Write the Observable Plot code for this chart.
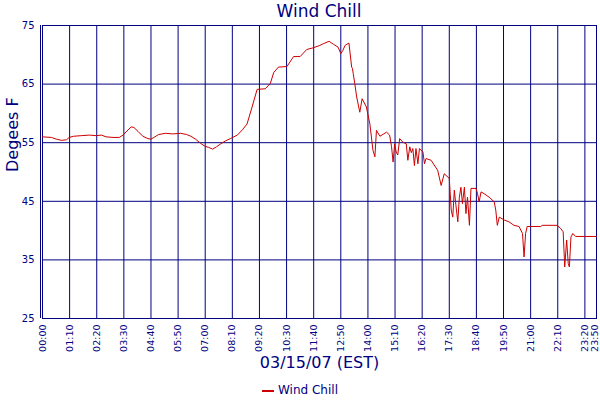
<!DOCTYPE html>
<html><head><meta charset="utf-8">
<script src="https://cdn.jsdelivr.net/npm/d3@7"></script>
<script src="https://cdn.jsdelivr.net/npm/@observablehq/plot@0.6"></script>
<style>
body{margin:0;background:#fff;font-family:"DejaVu Sans",sans-serif;color:#000080;width:600px;height:400px;position:relative;overflow:hidden}
#title{position:absolute;top:0;left:0;width:638px;text-align:center;font-size:17px;height:22px;line-height:22px}
#chart{position:absolute;top:20px;left:0}
#legend{position:absolute;top:381px;left:0;width:600px;text-align:center;font-size:12px;line-height:18px}
#legend .sw{display:inline-block;width:12px;height:2px;background:#cc0000;vertical-align:middle;margin-right:4px}
</style></head>
<body>
<div id="title">Wind Chill</div>
<div id="chart"></div>
<div id="legend"><span class="sw"></span>Wind Chill</div>
<script>
// minutes since 00:00 on 03/15/07
const minutes = [0,23,36,49,62,69,80,100,121,139,152,164,182,198,208,218,229,236,247,259,272,280,290,300,318,336,357,372,383,395,408,419,429,439,449,460,472,485,503,516,528,541,554,575,588,597,609,631,648,665,682,699,716,725,740,751,763,770,775,781,791,798,800,802,806,811,819,825,836,845,853,858,862,871,888,896,901,905,909,913,917,922,930,939,943,948,952,956,960,964,969,973,982,986,990,1003,1020,1029,1037,1050,1055,1059,1063,1067,1072,1076,1080,1084,1089,1093,1097,1102,1106,1119,1123,1127,1132,1140,1153,1166,1170,1174,1179,1192,1204,1217,1230,1239,1243,1247,1251,1286,1290,1328,1337,1344,1348,1353,1357,1360,1364,1369,1376,1430];
const windChill = [56.0,55.9,55.6,55.4,55.5,55.9,56.1,56.2,56.3,56.2,56.3,56.0,55.9,55.9,56.3,57.0,57.7,57.6,56.9,56.1,55.7,55.6,56.0,56.4,56.6,56.5,56.6,56.4,56.1,55.6,54.9,54.4,54.2,53.9,54.3,54.8,55.3,55.7,56.3,57.2,58.2,61.1,64.1,64.2,65.1,67.0,67.9,68.0,69.7,69.7,70.9,71.2,71.6,71.9,72.3,71.8,71.3,70.2,70.7,71.6,72.0,67.9,67.7,66.8,65.1,62.8,60.2,62.5,61.1,58.2,53.7,52.6,57.1,56.1,56.8,56.3,54.3,51.7,54.8,53.4,52.9,55.7,55.1,54.8,52.0,54.3,53.3,54.0,51.1,54.0,51.4,54.0,53.4,51.4,52.3,52.0,50.3,47.7,49.7,48.9,43.5,42.3,46.9,44.4,41.5,45.7,47.4,44.6,47.4,42.9,45.7,40.9,47.2,47.2,46.3,44.9,46.6,46.3,45.7,44.9,43.5,40.9,42.3,41.8,41.5,40.9,40.7,39.5,35.5,39.5,40.7,40.7,40.9,40.9,40.4,39.8,33.8,38.4,34.4,33.8,38.9,39.5,39.0,39.0];
const xTicks = [0,70,140,210,280,350,420,490,560,630,700,770,840,910,980,1050,1120,1190,1260,1330,1400,1430];
const yTicks = [25,35,45,55,65,75];
const xLabel = "03/15/07 (EST)";
const yLabel = "Degees F";

const data = minutes.map((m, i) => ({m, v: windChill[i]}));
const fmt = m => String(Math.floor(m / 60)).padStart(2, "0") + ":" + String(m % 60).padStart(2, "0");
const navy = "#000080";
const lastTick = xTicks[xTicks.length - 1];

const chart = Plot.plot({
  width: 600, height: 360,
  marginTop: 5, marginBottom: 62, marginLeft: 42, marginRight: 4,
  style: {fontFamily: "DejaVu Sans", color: navy, fontSize: "10px", background: "white"},
  x: {domain: [0, 1430]},
  y: {domain: [25, 75]},
  marks: [
    Plot.ruleX(xTicks, {stroke: navy, strokeOpacity: 1}),
    Plot.ruleY(yTicks, {stroke: navy, strokeOpacity: 1}),
    Plot.frame({stroke: navy}),
    Plot.ruleX([0], {stroke: navy, dx: -2}),
    Plot.lineY(data, {x: "m", y: "v", stroke: "#cc0000", strokeWidth: 1}),
    Plot.axisX({ticks: xTicks.slice(0, -1), tickFormat: fmt, tickRotate: -90, tickSize: 0, tickPadding: 6, label: null, fontSize: 9.5}),
    Plot.axisX({ticks: [lastTick], tickFormat: fmt, tickRotate: -90, tickSize: 0, tickPadding: 6, label: null, fontSize: 9.5, dx: -2}),
    Plot.axisY({ticks: yTicks, tickSize: 0, tickPadding: 8, label: null}),
    Plot.text([xLabel], {text: d => d, frameAnchor: "bottom", dy: 49, fontSize: 16, fill: navy}),
    Plot.text([yLabel], {text: d => d, frameAnchor: "left", dx: -30, rotate: -90, fontSize: 16, fill: navy})
  ]
});
document.getElementById("chart").append(chart);
</script>
</body></html>
